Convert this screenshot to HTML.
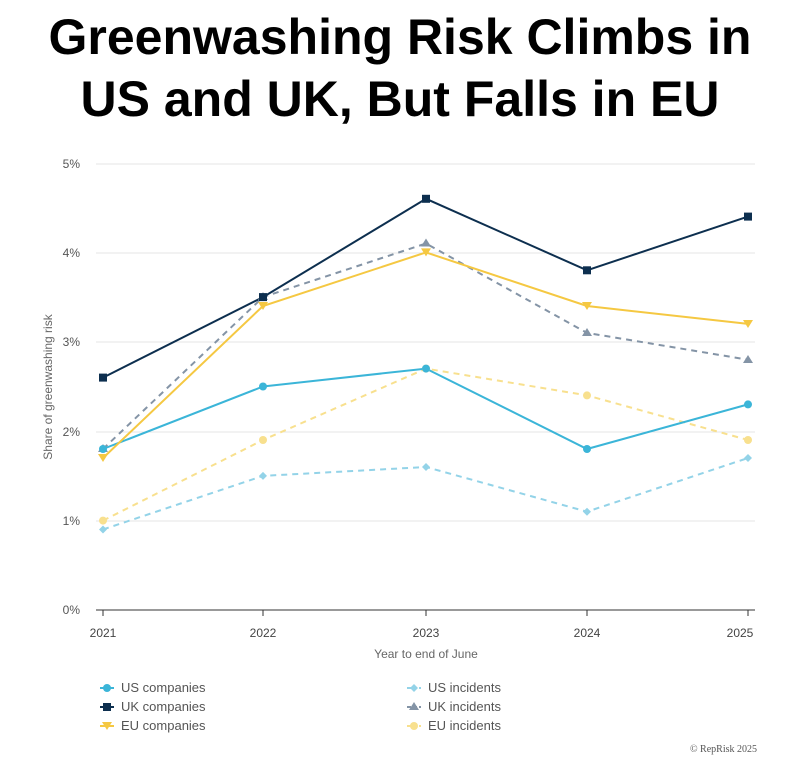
<!DOCTYPE html>
<html><head><style>
body{margin:0;background:#fff;width:800px;height:774px;overflow:hidden;font-family:"Liberation Sans",sans-serif}
h1{position:absolute;top:6px;left:0;width:800px;margin:0;text-align:center;font-size:50px;line-height:62px;font-weight:bold;color:#000}
</style></head><body>
<h1>Greenwashing Risk Climbs in<br>US and UK, But Falls in EU</h1>
<svg width="800" height="774" style="position:absolute;left:0;top:0" font-family="Liberation Sans, sans-serif">
<g stroke="#e6e6e6" stroke-width="1">
<line x1="96" x2="755" y1="164" y2="164"/><line x1="96" x2="755" y1="253" y2="253"/>
<line x1="96" x2="755" y1="342" y2="342"/><line x1="96" x2="755" y1="432" y2="432"/>
<line x1="96" x2="755" y1="521" y2="521"/>
</g>
<line x1="96" x2="755" y1="610" y2="610" stroke="#333" stroke-width="1"/>
<g stroke="#333"><line x1="103" x2="103" y1="610" y2="616"/><line x1="263" x2="263" y1="610" y2="616"/><line x1="426" x2="426" y1="610" y2="616"/><line x1="587" x2="587" y1="610" y2="616"/><line x1="748" x2="748" y1="610" y2="616"/></g>
<g font-size="12" fill="#555" text-anchor="end">
<text x="80" y="168">5%</text><text x="80" y="257">4%</text><text x="80" y="346">3%</text><text x="80" y="436">2%</text><text x="80" y="525">1%</text><text x="80" y="614">0%</text>
</g>
<g font-size="12" fill="#444" text-anchor="middle">
<text x="103" y="637">2021</text><text x="263" y="637">2022</text><text x="426" y="637">2023</text><text x="587" y="637">2024</text><text x="740" y="637">2025</text>
<text x="426" y="658" fill="#666">Year to end of June</text>
</g>
<text transform="translate(52,387) rotate(-90)" font-size="12" fill="#666" text-anchor="middle">Share of greenwashing risk</text>
<polyline fill="none" stroke="#93d3e8" stroke-width="2" stroke-dasharray="6,5" points="103,529.5 263,475.9 426,467 587,511.7 748,458"/>
<polyline fill="none" stroke="#f8e08e" stroke-width="2" stroke-dasharray="6,5" points="103,520.6 263,440 426,368.6 587,395.4 748,440"/>
<polyline fill="none" stroke="#8494a6" stroke-width="2" stroke-dasharray="6,5" points="103,449 263,297.1 426,243.5 587,332.9 748,359.7"/>
<polyline fill="none" stroke="#3bb5d8" stroke-width="2" points="103,449 263,386.5 426,368.6 587,449 748,404.4"/>
<polyline fill="none" stroke="#f5c842" stroke-width="2" points="103,458 263,306 426,252.4 587,306 748,323.9"/>
<polyline fill="none" stroke="#0d2f4f" stroke-width="2" points="103,377.6 263,297.1 426,198.8 587,270.3 748,216.6"/>
<g fill="#93d3e8"><path d="M103 525.5l4 4-4 4-4-4z"/><path d="M263 471.9l4 4-4 4-4-4z"/><path d="M426 463l4 4-4 4-4-4z"/><path d="M587 507.7l4 4-4 4-4-4z"/><path d="M748 454l4 4-4 4-4-4z"/></g>
<g fill="#f8e08e"><circle cx="103" cy="520.6" r="4"/><circle cx="263" cy="440" r="4"/><circle cx="426" cy="368.6" r="4"/><circle cx="587" cy="395.4" r="4"/><circle cx="748" cy="440" r="4"/></g>
<g fill="#8494a6"><path d="M103 444l5 8h-10z"/><path d="M263 292l5 8h-10z"/><path d="M426 238.5l5 8h-10z"/><path d="M587 328l5 8h-10z"/><path d="M748 355l5 8h-10z"/></g>
<g fill="#3bb5d8"><circle cx="103" cy="449" r="4"/><circle cx="263" cy="386.5" r="4"/><circle cx="426" cy="368.6" r="4"/><circle cx="587" cy="449" r="4"/><circle cx="748" cy="404.4" r="4"/></g>
<g fill="#f5c842"><path d="M98 454h10l-5 8z"/><path d="M258 302h10l-5 8z"/><path d="M421 248.4h10l-5 8z"/><path d="M582 302h10l-5 8z"/><path d="M743 320h10l-5 8z"/></g>
<g fill="#0d2f4f"><rect x="99" y="373.6" width="8" height="8"/><rect x="259" y="293.1" width="8" height="8"/><rect x="422" y="194.8" width="8" height="8"/><rect x="583" y="266.3" width="8" height="8"/><rect x="744" y="212.6" width="8" height="8"/></g>
<g font-size="13" fill="#555">
<line x1="100" x2="114" y1="688" y2="688" stroke="#3bb5d8" stroke-width="2"/><circle cx="107" cy="688" r="4" fill="#3bb5d8"/><text x="121" y="692">US companies</text>
<line x1="100" x2="114" y1="707" y2="707" stroke="#0d2f4f" stroke-width="2"/><rect x="103" y="703" width="8" height="8" fill="#0d2f4f"/><text x="121" y="711">UK companies</text>
<line x1="100" x2="114" y1="726" y2="726" stroke="#f5c842" stroke-width="2"/><path d="M102 722h10l-5 8z" fill="#f5c842"/><text x="121" y="730">EU companies</text>
<line x1="407" x2="421" y1="688" y2="688" stroke="#93d3e8" stroke-width="2" stroke-dasharray="4,2"/><path d="M414 684l4 4-4 4-4-4z" fill="#93d3e8"/><text x="428" y="692">US incidents</text>
<line x1="407" x2="421" y1="707" y2="707" stroke="#8494a6" stroke-width="2" stroke-dasharray="4,2"/><path d="M414 702l5 8h-10z" fill="#8494a6"/><text x="428" y="711">UK incidents</text>
<line x1="407" x2="421" y1="726" y2="726" stroke="#f8e08e" stroke-width="2" stroke-dasharray="4,2"/><circle cx="414" cy="726" r="4" fill="#f8e08e"/><text x="428" y="730">EU incidents</text>
</g>
<text x="757" y="752" font-size="10" fill="#555" text-anchor="end" font-family="Liberation Serif, serif">© RepRisk 2025</text>
</svg>
</body></html>
